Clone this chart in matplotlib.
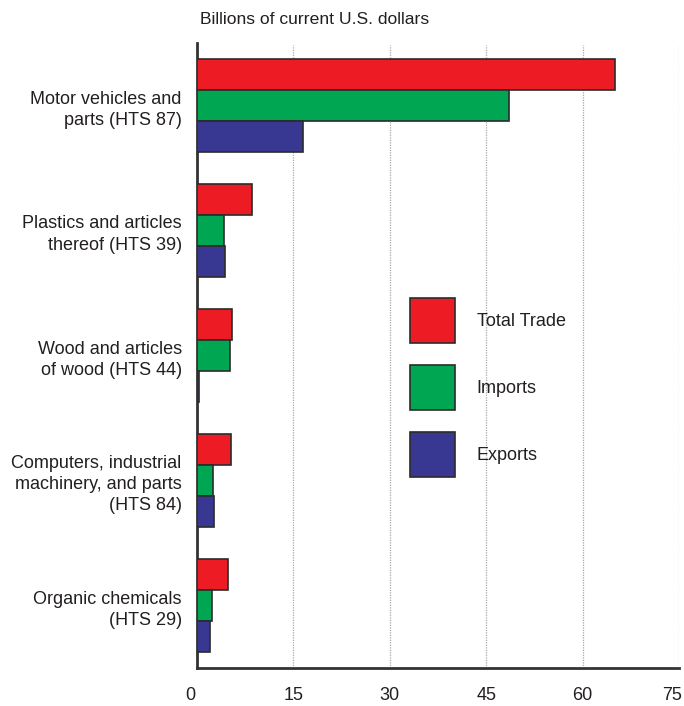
import matplotlib.pyplot as plt
import matplotlib.transforms as mtransforms
import numpy as np
from matplotlib.patches import Patch

plt.rcParams['font.family'] = ['Liberation Sans', 'DejaVu Sans']

categories = ["Motor vehicles and\nparts (HTS 87)",
              "Plastics and articles\nthereof (HTS 39)",
              "Wood and articles\nof wood (HTS 44)",
              "Computers, industrial\nmachinery, and parts\n(HTS 84)",
              "Organic chemicals\n(HTS 29)"]
total_trade = [65.1, 8.6, 5.4, 5.3, 4.8]
imports = [48.6, 4.2, 5.1, 2.5, 2.4]
exports = [16.5, 4.4, 0.25, 2.7, 2.1]
xticks = [0, 15, 30, 45, 60, 75]

red = "#ED1C24"
green = "#00A651"
blue = "#383892"
edge = "#2b2b2b"
txt = "#231f20"

fig = plt.figure(figsize=(6.84, 7.06), dpi=100)
ax = fig.add_axes([197 / 684, 38 / 706, 482 / 684, 625 / 706])

y = np.arange(len(categories))
h = 0.25
ax.barh(y - h, total_trade, height=h, color=red, edgecolor=edge, linewidth=1.2, label="Total Trade", zorder=3)
ax.barh(y, imports, height=h, color=green, edgecolor=edge, linewidth=1.2, label="Imports", zorder=3)
ax.barh(y + h, exports, height=h, color=blue, edgecolor=edge, linewidth=1.2, label="Exports", zorder=3)

ax.set_ylim(len(categories) - 0.5, -0.5)
ax.set_xlim(0, 75)
ax.set_yticks(y)
ax.set_yticklabels(categories, fontsize=13, color=txt, linespacing=1.32)
ax.set_xticks(xticks)
ax.set_xticklabels([str(t) for t in xticks], fontsize=13, color=txt)
ax.tick_params(axis="both", length=0)
ax.tick_params(axis="x", pad=14)
ax.tick_params(axis="y", pad=11)

# nudge the end labels like in the original
labels = ax.get_xticklabels()
labels[0].set_transform(labels[0].get_transform() + mtransforms.ScaledTranslation(-7 / 100, 0, fig.dpi_scale_trans))
labels[-1].set_transform(labels[-1].get_transform() + mtransforms.ScaledTranslation(-7 / 100, 0, fig.dpi_scale_trans))

for t in xticks[1:]:
    ax.axvline(t, ymin=0, ymax=0.997, color="#a8a8a8", linestyle=(0, (1, 1)), linewidth=0.9, zorder=1)

for s in ["top", "right"]:
    ax.spines[s].set_visible(False)
for s in ["left", "bottom"]:
    ax.spines[s].set_color("#333333")
    ax.spines[s].set_linewidth(2)

handles = [Patch(facecolor=red, edgecolor=edge, linewidth=1.2),
           Patch(facecolor=green, edgecolor=edge, linewidth=1.2),
           Patch(facecolor=blue, edgecolor=edge, linewidth=1.2)]
ax.legend(handles, ["Total Trade", "Imports", "Exports"], loc="upper left",
          bbox_to_anchor=(213 / 482, (663 - 293) / 625), frameon=False, fontsize=13,
          handlelength=2.49, handleheight=3.46, labelspacing=1.215, handletextpad=1.2,
          borderaxespad=0, borderpad=0, labelcolor=txt)

fig.text(200 / 684, 1 - 19 / 706, "Billions of current U.S. dollars", fontsize=12.6,
         color=txt, ha="left", va="center")

fig.savefig("out.png", dpi=100)
